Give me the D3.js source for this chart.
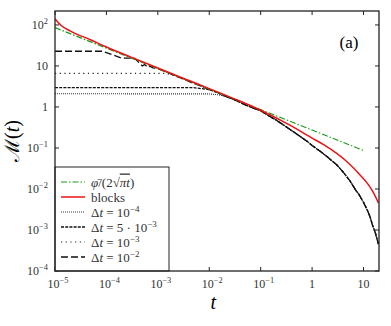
<!DOCTYPE html>
<html>
<head>
<meta charset="utf-8">
<script src="https://cdn.jsdelivr.net/npm/d3@7"></script>
<style>
  body { margin: 0; background: #fff; }
</style>
</head>
<body>
<div id="chart"></div>
<script>
// CONSTANTS
const width = 391, height = 326;
const margin = {top: 11, right: 12, bottom: 55, left: 55};
const serif = "'Liberation Serif', 'DejaVu Serif', serif";

// DATA
// green dash-dot: phi/(2 sqrt(pi t))
const tGreen = [1e-5, 1e-3, 1e-1, 10];
const mGreen = [86, 8.6, 0.86, 0.087];

// red: blocks
const tRed = [1e-5, 1.3e-5, 2e-5, 5e-5, 1e-4, 3e-4, 1e-3, 3e-3, 1e-2, 3e-2, 0.1, 0.34, 1, 1.74, 4.6, 8.3, 12, 15, 19.5];
const mRed = [141, 98, 71, 43, 29, 16.4, 8.9, 5.1, 2.8, 1.6, 0.83, 0.38, 0.174, 0.117, 0.048, 0.023, 0.0135, 0.0089, 0.0046];

// shared late-time black curve (all Δt runs collapse onto it)
const tLate = [1e-3, 1.4e-3, 2e-3, 3e-3, 5e-3, 7e-3, 1e-2, 1.4e-2, 2e-2, 3e-2, 5e-2, 7e-2, 0.1, 0.14, 0.2, 0.3, 0.5, 0.8, 1, 1.5, 2, 3, 4, 5.4, 7, 8.3, 10, 11.5, 13.2, 15, 17, 19.5];
const mLate = [8.6, 7.3, 6.0, 4.9, 3.75, 3.2, 2.65, 2.28, 1.85, 1.52, 1.13, 0.95, 0.81, 0.62, 0.48, 0.34, 0.22, 0.145, 0.115, 0.08, 0.06, 0.039, 0.026, 0.016, 0.0095, 0.0071, 0.0047, 0.0033, 0.0022, 0.0013, 0.00085, 0.00045];

// Δt = 1e-2 : long dashes, plateau then staircase
const tDt2 = [1e-5, 8.5e-5, 2e-4, 3.5e-4, 4.2e-4, 5e-4, 5.5e-4, 6.5e-4, 7e-4, 8e-4];
const mDt2 = [22.8, 22.8, 15.5, 15.5, 12.5, 10, 10.8, 9.2, 9.9, 9.0];
// Δt = 1e-3 : sparse dots
const tDt3 = [1e-5, 1.4e-3];
const mDt3 = [6.6, 6.6];
// Δt = 5e-3 : short dashes
const tDt53 = [1e-5, 5e-3, 7e-3];
const mDt53 = [2.95, 2.95, 2.8];
// Δt = 1e-4 : dense dots
const tDt4 = [1e-5, 1e-2, 1.4e-2];
const mDt4 = [2.1, 2.08, 2.0];

const xTicks = [1e-5, 1e-4, 1e-3, 1e-2, 1e-1, 1, 10];
const xTickLabels = [["10", "\u22125"], ["10", "\u22124"], ["10", "\u22123"], ["10", "\u22122"], ["10", "\u22121"], ["1", ""], ["10", ""]];
const yTicks = [1e-4, 1e-3, 1e-2, 1e-1, 1, 10, 100];
const yTickLabels = [["10", "\u22124"], ["10", "\u22123"], ["10", "\u22122"], ["10", "\u22121"], ["1", ""], ["10", ""], ["10", "2"]];

// SCALES
const xScale = d3.scaleLog()
    .domain([1e-5, 20])
    .range([margin.left, width - margin.right]);
const yScale = d3.scaleLog()
    .domain([1e-4, Math.pow(10, 2.34)])
    .range([height - margin.bottom, margin.top]);

const line = d3.line()
    .x(d => xScale(d[0]))
    .y(d => yScale(d[1]));
const smooth = d3.line()
    .x(d => xScale(d[0]))
    .y(d => yScale(d[1]))
    .curve(d3.curveMonotoneX);

const zip = (ts, ms) => ts.map((t, i) => [t, ms[i]]);
const withLate = (ts, ms) => {
    const last = ts[ts.length - 1];
    return zip(ts, ms).concat(zip(tLate, mLate).filter(d => d[0] > last));
};

// SVG
const svg = d3.select('#chart')
    .append("svg")
    .attr("width", width)
    .attr("height", height)
    .style("font-family", serif);

svg.append("defs").append("clipPath").attr("id", "clip")
    .append("rect")
    .attr("x", margin.left).attr("y", margin.top)
    .attr("width", width - margin.left - margin.right)
    .attr("height", height - margin.top - margin.bottom);

const plot = svg.append("g").attr("clip-path", "url(#clip)");

const series = [
    {data: withLate(tDt4, mDt4), stroke: "#333", dash: "1,1", w: 1.1},
    {data: withLate(tDt53, mDt53), stroke: "#111", dash: "3,1.2", w: 1.3},
    {data: withLate(tDt3, mDt3), stroke: "#222", dash: "1.2,3.5", w: 1.2},
    {data: withLate(tDt2, mDt2), stroke: "#111", dash: "7,3", w: 1.3}
];

// LINES
plot.selectAll("path.black")
    .data(series)
    .join("path")
    .attr("class", "black")
    .attr("fill", "none")
    .attr("stroke", d => d.stroke)
    .attr("stroke-width", d => d.w)
    .attr("stroke-dasharray", d => d.dash)
    .attr("d", d => line(d.data));

plot.append("path")
    .datum(zip(tGreen, mGreen))
    .attr("fill", "none")
    .attr("stroke", "#1a9a1a")
    .attr("stroke-width", 1.2)
    .attr("stroke-dasharray", "6,2,1.5,2")
    .attr("d", line);

plot.append("path")
    .datum(zip(tRed, mRed))
    .attr("fill", "none")
    .attr("stroke", "#ee1111")
    .attr("stroke-width", 1.5)
    .attr("d", smooth);

// AXES (ticks inward on all four sides)
const tickLen = 4;
const frame = svg.append("g").attr("class", "frame");
xTicks.forEach(t => {
    const x = xScale(t);
    frame.append("line").attr("x1", x).attr("x2", x)
        .attr("y1", height - margin.bottom).attr("y2", height - margin.bottom - tickLen);
    frame.append("line").attr("x1", x).attr("x2", x)
        .attr("y1", margin.top).attr("y2", margin.top + tickLen);
});
yTicks.forEach(m => {
    const y = yScale(m);
    frame.append("line").attr("x1", margin.left).attr("x2", margin.left + tickLen)
        .attr("y1", y).attr("y2", y);
    frame.append("line").attr("x1", width - margin.right).attr("x2", width - margin.right - tickLen)
        .attr("y1", y).attr("y2", y);
});
frame.selectAll("line").attr("stroke", "#222").attr("stroke-width", 1);

// tick labels with superscripts
function sup(sel, parts, size) {
    sel.append("tspan").text(parts[0]);
    if (parts[1]) {
        sel.append("tspan")
            .attr("dy", -5)
            .style("font-size", (size * 0.7) + "px")
            .text(parts[1]);
    }
}
xTicks.forEach((t, i) => {
    const txt = svg.append("text")
        .attr("x", xScale(t) + (xTickLabels[i][1] ? 3 : 0))
        .attr("y", height - margin.bottom + 17)
        .attr("text-anchor", "middle")
        .attr("fill", "#333")
        .style("font-size", "12px");
    sup(txt, xTickLabels[i], 12);
});
yTicks.forEach((m, i) => {
    const txt = svg.append("text")
        .attr("x", margin.left - 7)
        .attr("y", yScale(m) + 4)
        .attr("text-anchor", "end")
        .attr("fill", "#333")
        .style("font-size", "12px");
    sup(txt, yTickLabels[i], 12);
});

// axis titles
svg.append("text")
    .attr("x", xScale(0.012))
    .attr("y", 309)
    .attr("text-anchor", "middle")
    .style("font-size", "20px")
    .style("font-style", "italic")
    .text("t");

const ylab = svg.append("text")
    .attr("transform", `translate(19, ${(margin.top + height - margin.bottom) / 2}) rotate(-90)`)
    .attr("text-anchor", "middle")
    .style("font-size", "20px");
ylab.append("tspan").text("\u2133(");
ylab.append("tspan").style("font-style", "italic").text("t");
ylab.append("tspan").text(")");

// panel label
svg.append("text")
    .attr("x", 349)
    .attr("y", 48)
    .attr("text-anchor", "middle")
    .style("font-size", "17px")
    .text("(a)");

// LEGEND
const legend = svg.append("g");
legend.append("rect")
    .attr("x", margin.left).attr("y", 167)
    .attr("width", 114).attr("height", height - margin.bottom - 167)
    .attr("fill", "#fff").attr("stroke", "#222").attr("stroke-width", 1);

const legendItems = [
    {stroke: "#1a9a1a", dash: "6,2,1.5,2", w: 1.2},
    {stroke: "#ee1111", dash: null, w: 1.5},
    {stroke: "#333", dash: "1,1", w: 1.1},
    {stroke: "#111", dash: "3,1.2", w: 1.3},
    {stroke: "#222", dash: "1.2,3.5", w: 1.2},
    {stroke: "#111", dash: "7,3", w: 1.3}
];
legendItems.forEach((d, i) => {
    const y = 182 + i * 15;
    legend.append("line")
        .attr("x1", 61).attr("x2", 85).attr("y1", y).attr("y2", y)
        .attr("stroke", d.stroke).attr("stroke-width", d.w)
        .attr("stroke-dasharray", d.dash);
});

const lx = 91, fs = 13;
function lt(i) {
    return legend.append("text").attr("x", lx).attr("y", 182 + i * 15 + 4.5)
        .attr("fill", "#333").style("font-size", fs + "px");
}
// phi/(2 sqrt(pi t))
const t0 = lt(0);
t0.append("tspan").style("font-style", "italic").text("\u03C6\u0304");
t0.append("tspan").text("/(2\u221A");
const rad = t0.append("tspan").style("text-decoration", "overline");
rad.append("tspan").style("font-style", "italic").text("\u03C0t");
t0.append("tspan").text(")");

lt(1).text("blocks");

function dtLabel(i, pre, exp) {
    const t = lt(i);
    t.append("tspan").text("\u0394");
    t.append("tspan").style("font-style", "italic").text("t");
    t.append("tspan").text(" = " + pre + "10");
    t.append("tspan").attr("dy", -5).style("font-size", "9px").text(exp);
}
dtLabel(2, "", "\u22124");
dtLabel(3, "5 \u00B7 ", "\u22123");
dtLabel(4, "", "\u22123");
dtLabel(5, "", "\u22122");

// frame box on top
svg.append("rect")
    .attr("x", margin.left).attr("y", margin.top)
    .attr("width", width - margin.left - margin.right)
    .attr("height", height - margin.top - margin.bottom)
    .attr("fill", "none").attr("stroke", "#222").attr("stroke-width", 1.3);
</script>
</body>
</html>
